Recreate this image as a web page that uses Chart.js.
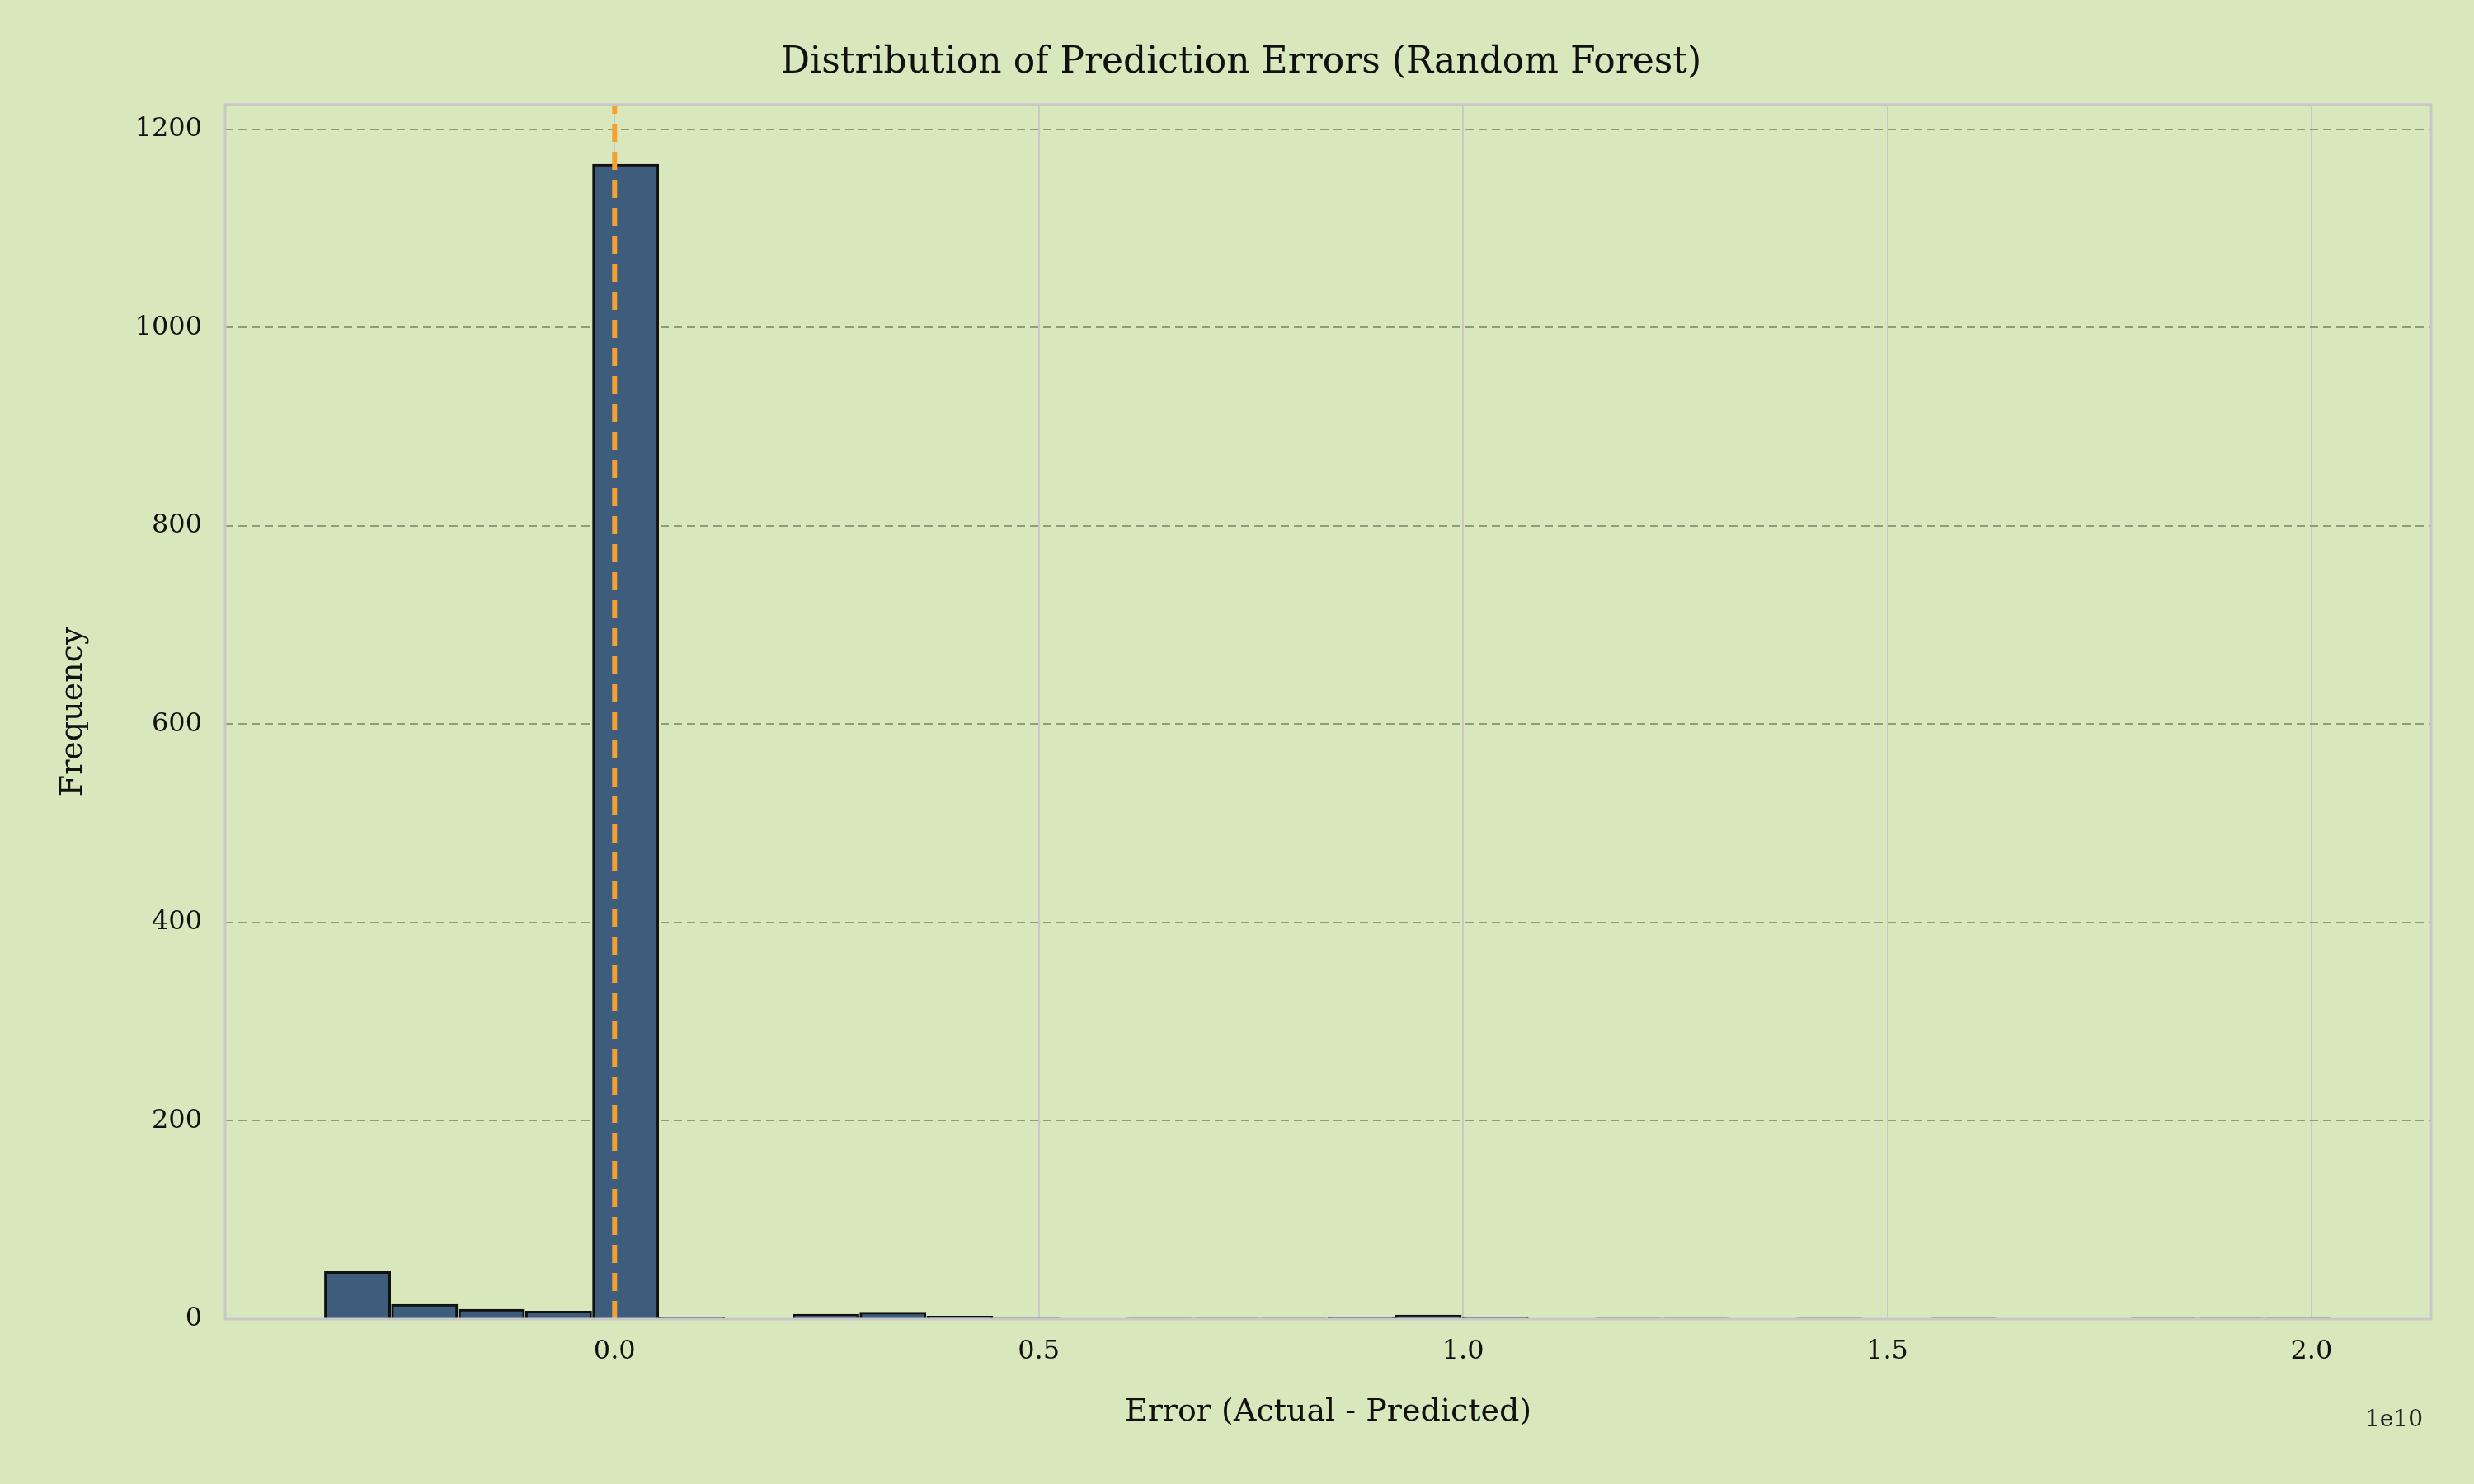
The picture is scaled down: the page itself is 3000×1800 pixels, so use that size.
<!DOCTYPE html>
<html>
<head>
<meta charset="utf-8">
<script src="https://cdn.jsdelivr.net/npm/chart.js@4.4.0/dist/chart.umd.min.js"></script>
<style>
  html, body { margin: 0; padding: 0; background: #d9e7bd; }
  #wrap { width: 3000px; height: 1800px; }
</style>
</head>
<body>
<div id="wrap"><canvas id="grafico" width="3000" height="1800"></canvas></div>
<script>
// bin centres (in units of 1e10) and counts
const binCenters = [-0.303, -0.224, -0.145, -0.066, 0.013, 0.091, 0.170, 0.249, 0.328, 0.407,
  0.486, 0.565, 0.643, 0.722, 0.801, 0.880, 0.959, 1.038, 1.116, 1.195,
  1.274, 1.353, 1.432, 1.511, 1.590, 1.668, 1.747, 1.826, 1.905, 1.984];
const counts = [48, 15, 10, 8, 1165, 2, 0, 5, 7, 3,
  1, 0, 1, 1, 1, 2, 4, 2, 0, 1,
  1, 0, 1, 0, 1, 0, 0, 1, 1, 1];
const meanError = 0.0;
const xTicks = [0.0, 0.5, 1.0, 1.5, 2.0];
const yTicks = [0, 200, 400, 600, 800, 1000, 1200];

const fuente = "'DejaVu Serif', 'Liberation Serif', serif";

const marco = {
  id: 'marco',
  afterDraw(chart) {
    const { ctx, chartArea: a } = chart;
    ctx.save();
    ctx.strokeStyle = '#c8c8c8';
    ctx.lineWidth = 3;
    ctx.strokeRect(a.left, a.top, a.right - a.left, a.bottom - a.top);
    ctx.fillStyle = '#222';
    ctx.font = '28px ' + fuente;
    ctx.textAlign = 'right';
    ctx.fillText('1e10', a.right - 10, a.bottom + 130);
    ctx.restore();
  }
};

const ctx = document.getElementById('grafico').getContext('2d');
new Chart(ctx, {
  type: 'bar',
  data: {
    datasets: [{
      type: 'bar',
      data: binCenters.map((x, i) => ({ x: x, y: counts[i] })),
      backgroundColor: '#3e5c7c',
      borderColor: '#111',
      borderWidth: 3,
      barPercentage: 1,
      categoryPercentage: 1,
      order: 2
    }, {
      type: 'line',
      data: [{ x: meanError, y: 0 }, { x: meanError, y: 1225 }],
      borderColor: '#f5a030',
      borderWidth: 6,
      borderDash: [22, 12],
      pointRadius: 0,
      order: 1
    }]
  },
  options: {
    responsive: false,
    animation: false,
    devicePixelRatio: 1,
    layout: { padding: { left: 62, right: 52, top: 40, bottom: 60 } },
    plugins: {
      legend: { display: false },
      tooltip: { enabled: false },
      title: {
        display: true,
        text: 'Distribution of Prediction Errors (Random Forest)',
        color: '#111',
        font: { family: fuente, size: 44, weight: 'normal' },
        padding: { top: 10, bottom: 24 }
      }
    },
    scales: {
      x: {
        type: 'linear',
        offset: false,
        min: -0.459,
        max: 2.141,
        afterBuildTicks: s => { s.ticks = xTicks.map(v => ({ value: v })); },
        ticks: {
          color: '#111',
          font: { family: fuente, size: 32 },
          padding: 20,
          callback: v => v.toFixed(1)
        },
        grid: { color: '#c8c8c8', lineWidth: 2, drawTicks: false, offset: false },
        border: { display: false },
        title: {
          display: true,
          text: 'Error (Actual - Predicted)',
          color: '#111',
          font: { family: fuente, size: 38 },
          padding: { top: 12 }
        }
      },
      y: {
        min: 0,
        max: 1225,
        afterBuildTicks: s => { s.ticks = yTicks.map(v => ({ value: v })); },
        ticks: {
          color: '#111',
          font: { family: fuente, size: 32 },
          padding: 28,
          callback: v => String(v)
        },
        grid: { color: '#8a9e7c', lineWidth: 2, drawTicks: false },
        border: { display: false, dash: [10, 6] },
        title: {
          display: true,
          text: 'Frequency',
          color: '#111',
          font: { family: fuente, size: 38 },
          padding: { bottom: 24 }
        }
      }
    }
  },
  plugins: [marco]
});
</script>
</body>
</html>
